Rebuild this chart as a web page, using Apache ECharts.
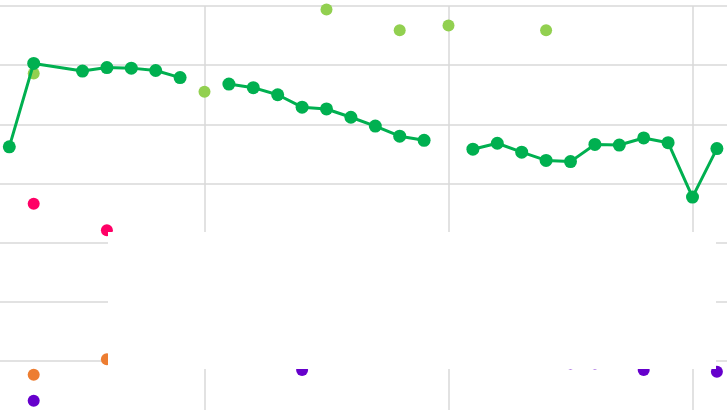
<!DOCTYPE html>
<html>
<head>
<meta charset="utf-8">
<script src="https://cdn.jsdelivr.net/npm/echarts@6/dist/echarts.min.js"></script>
<style>
  html, body { margin: 0; padding: 0; background: #ffffff; overflow: hidden; width: 727px; height: 410px; }
  /* the plot runs past the window edges, so the chart box is shifted and oversized */
  #main { position: absolute; left: -40px; top: 0; width: 782px; height: 421px; }
</style>
</head>
<body>
<div id="main"></div>
<script>
// x positions (index along the axis) and values per series
// '-' = no value, the line breaks there
const darkX = [0, 1, 3, 4, 5, 6, 7, 8, 9, 10, 11, 12, 13, 14, 15, 16, 17, 18, 19, 20, 21, 22, 23, 24, 25, 26, 27, 28, 29]
const darkY = [36.2, 50.3, 49.0, 49.6, 49.5, 49.1, 47.9, '-', 46.8, 46.2, 45.0, 42.9, 42.6, 41.2, 39.7, 38.0, 37.3, '-', 35.8, 36.8, 35.3, 33.9, 33.7, 36.6, 36.5, 37.7, 36.9, 27.7, 35.9]

const lightX = [1, 8, 13, 16, 18, 22]
const lightY = [48.6, 45.5, 59.4, 55.9, 56.7, 55.9]

const pinkX = [1, 4]
const pinkY = [26.6, 22.1]

const orangeX = [1, 4]
const orangeY = [-2.3, 0.3]

const purpleX = [1, 12, 23, 24, 26, 29]
const purpleY = [-6.7, -1.5, -0.4, -0.4, -1.5, -1.8]

function pairs(xs, ys) {
  return xs.map((x, i) => [x, ys[i]])
}

const myChart = echarts.init(document.getElementById('main'))

function scatter(name, color, xs, ys) {
  return {
    name: name,
    type: 'scatter',
    symbolSize: 12,
    itemStyle: { color: color, opacity: 1 },
    data: pairs(xs, ys)
  }
}

const option = {
  animation: false,
  grid: {
    left: 0.5,
    right: 0.7,
    top: 6,
    bottom: 0.8
  },
  xAxis: {
    type: 'value',
    min: -2,
    max: 30,
    interval: 10,
    axisLine: { show: false },
    axisTick: { show: false },
    axisLabel: { show: false },
    splitLine: { show: true, lineStyle: { color: '#d9d9d9', width: 1.5 } }
  },
  yAxis: {
    type: 'value',
    min: -10,
    max: 60,
    interval: 10,
    axisLine: { show: false },
    axisTick: { show: false },
    axisLabel: { show: false },
    splitLine: { show: true, lineStyle: { color: '#d9d9d9', width: 1.5 } }
  },
  series: [
    scatter('light', '#92d050', lightX, lightY),
    scatter('pink', '#ff0066', pinkX, pinkY),
    scatter('orange', '#ed7d31', orangeX, orangeY),
    scatter('purple', '#6600cc', purpleX, purpleY),
    {
      name: 'dark',
      type: 'line',
      symbol: 'circle',
      symbolSize: 13,
      z: 3,
      itemStyle: { color: '#00b050' },
      lineStyle: { color: '#00b050', width: 3 },
      data: pairs(darkX, darkY)
    }
  ],
  // white box lying over the lower part of the plot (chart box is shifted 40px left)
  graphic: {
    elements: [{
      type: 'rect',
      z: 100,
      shape: { x: 148, y: 232, width: 608, height: 137 },
      style: { fill: '#ffffff' }
    }]
  }
}

myChart.setOption(option)
</script>
</body>
</html>
